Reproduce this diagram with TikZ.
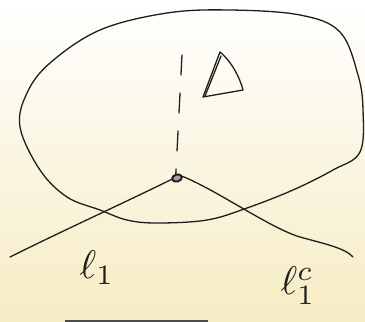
\documentclass[tikz,border=0pt]{standalone}
\usepackage{graphicx}
\usetikzlibrary{shapes.geometric,calc}
\definecolor{bgbot}{HTML}{F6ECC4}
\definecolor{ink}{HTML}{1E1E1E}
\tikzset{
  pen/.style={draw=ink, line width=1.3pt, line cap=round, line join=round},
  dashpen/.style={pen, dash pattern=on 20pt off 18pt},
  lbl/.style={inner sep=0pt, text=ink}
}
\begin{document}
\begin{tikzpicture}[x=1pt,y=-1pt]
\shade[top color=white, bottom color=bgbot] (0,0) rectangle (365,322);
\useasboundingbox (0,0) rectangle (365,322);
% blob
\draw[pen] plot[smooth cycle, tension=0.6] coordinates {
 (230,10) (300,15) (340,32) (358,75) (363,110) (360,152) (333,170)
 (293,190) (247,208) (207,220) (157,223) (127,220) (100,210) (67,197)
 (40,170) (20,127) (27,93) (50,63) (100,30) (167,13)};
% point
\node[pen, line width=2pt, fill=ink!40, ellipse, minimum width=10pt, minimum height=7pt, inner sep=0pt, rotate=15] (p) at (177,178) {};
\coordinate (top) at (182,55);
\draw[dashpen] (top) -- (p.north);
% lines
\coordinate (la) at (10,257);
\coordinate (rb) at (353,257);
\draw[pen] (la) .. controls (60,232) and (130,200) .. (p.west);
\draw[pen] (p.east) .. controls (220,192) and (270,228) .. (300,237) .. controls (325,244) and (345,248) .. (rb);
% triangle
\coordinate (t1) at (203,97);
\coordinate (t2) at (220,52);
\coordinate (t3) at (243,90);
\draw[pen] (t1) -- (t2) .. controls (232,62) and (240,78) .. (t3) -- cycle;
\draw[pen] ($(t1)+(2,-1)$) -- ($(t2)+(1,4)$);
% labels
\node[lbl] (l1) at (97,268) {\scalebox{4}{$\ell_1$}};
\node[lbl] (l1c) at (298,286) {\scalebox{4}{$\ell_1^c$}};
% bottom bar
\coordinate (b1) at (65,321);
\coordinate (b2) at (208,321);
\draw[draw=ink!80, line width=2.5pt] (b1) -- (b2);
\end{tikzpicture}
\end{document}
